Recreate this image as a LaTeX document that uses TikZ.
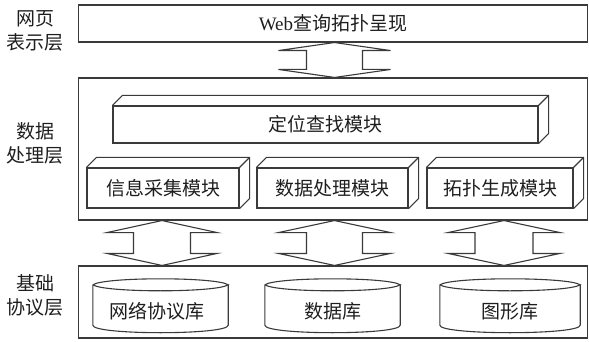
\documentclass[tikz,border=0pt]{standalone}
\usepackage{fontspec}
\setmainfont{Liberation Serif}
\newfontfamily\cjk{Noto Sans CJK SC}
\usetikzlibrary{calc}
\definecolor{ln}{HTML}{3A3A3A}
\definecolor{tx}{HTML}{1E1E1E}
\tikzset{
  frame/.style={draw=ln, line width=1.1pt, inner sep=0pt},
  blk/.style={draw=ln, line width=1.1pt, inner sep=0pt, text=tx, font=\cjk\fontsize{19}{21}\selectfont},
  face/.style={draw=ln, line width=1.1pt, line join=miter},
  arr/.style={draw=ln, line width=1.1pt, line join=miter},
  lbl/.style={text=tx, align=center, font=\cjk\fontsize{19}{24}\selectfont, inner sep=0pt},
  cyltext/.style={text=tx, inner sep=0pt, font=\cjk\fontsize{19}{21}\selectfont}
}
% 3D box faces: node name
\newcommand\boxdepth[1]{%
  \draw[face] (#1.north west) -- ++(10,-10) -- ($(#1.north east)+(10,-10)$) -- ($(#1.south east)+(10,-10)$) -- (#1.south east);
  \draw[face] (#1.north east) -- ++(10,-10);
}
% double arrow: x, upper node, lower node, half head, half shaft, head length
\newcommand\updown[6]{%
  \coordinate (ua) at (#1,0 |- #2.south);
  \coordinate (ub) at (#1,0 |- #3.north);
  \draw[arr] (ua) -- ($(ua)+(#4,#6)$) -- ($(ua)+(#5,#6)$) -- ($(ub)+(#5,-#6)$) -- ($(ub)+(#4,-#6)$) -- (ub)
    -- ($(ub)+(-#4,-#6)$) -- ($(ub)+(-#5,-#6)$) -- ($(ua)+(-#5,#6)$) -- ($(ua)+(-#4,#6)$) -- cycle;
}
% cylinder: node name (node sized to body)
\newcommand\cyl[1]{%
  \draw[face] (#1.north west) -- (#1.south west)
    .. controls ($(#1.south west)+(0,10)$) and ($(#1.south east)+(0,10)$) .. (#1.south east)
    -- (#1.north east);
  \draw[face] (#1.north west) .. controls ($(#1.north west)+(12,-8)$) and ($(#1.north east)+(-12,-8)$) .. (#1.north east)
    .. controls ($(#1.north east)+(-12,8)$) and ($(#1.north west)+(12,8)$) .. (#1.north west);
}
\begin{document}
\begin{tikzpicture}[x=1pt,y=-1pt]
\useasboundingbox (0,0) rectangle (589,342);
% layers
\node[blk, minimum width=509, minimum height=37] (web) at (333,23.5) {{\rmfamily Web}查询拓扑呈现};
\node[frame, minimum width=509, minimum height=142] (mid) at (333,149) {};
\node[frame, minimum width=509, minimum height=72] (base) at (333,302) {};
% left labels
\node[lbl] (l1) at (35,31) {网页\\表示层};
\node[lbl] (l2) at (35,143.5) {数据\\处理层};
\node[lbl] (l3) at (35,295) {基础\\协议层};
% modules
\node[blk, minimum width=425, minimum height=37] (loc) at (325.5,124.5) {定位查找模块};
\boxdepth{loc}
\node[blk, minimum width=152, minimum height=40] (m1) at (163,188) {信息采集模块};
\node[blk, minimum width=151, minimum height=40] (m2) at (332.5,188) {数据处理模块};
\node[blk, minimum width=146, minimum height=40] (m3) at (500,188) {拓扑生成模块};
\boxdepth{m1}
\boxdepth{m2}
\boxdepth{m3}
% libraries
\node[minimum width=135, minimum height=40, inner sep=0pt] (c1) at (160.5,305) {};
\node[minimum width=135, minimum height=40, inner sep=0pt] (c2) at (332.5,305) {};
\node[minimum width=140, minimum height=40, inner sep=0pt] (c3) at (510,305) {};
\cyl{c1}
\cyl{c2}
\cyl{c3}
\node[cyltext] (t1) at (157,311) {网络协议库};
\node[cyltext] (t2) at (332.5,311) {数据库};
\node[cyltext] (t3) at (510,311) {图形库};
% arrows
\updown{334.5}{web}{mid}{56}{28}{8}
\updown{162}{mid}{base}{55}{28.5}{12}
\updown{334.5}{mid}{base}{56}{28}{12}
\updown{504}{mid}{base}{56}{29}{12}
\end{tikzpicture}
\end{document}
